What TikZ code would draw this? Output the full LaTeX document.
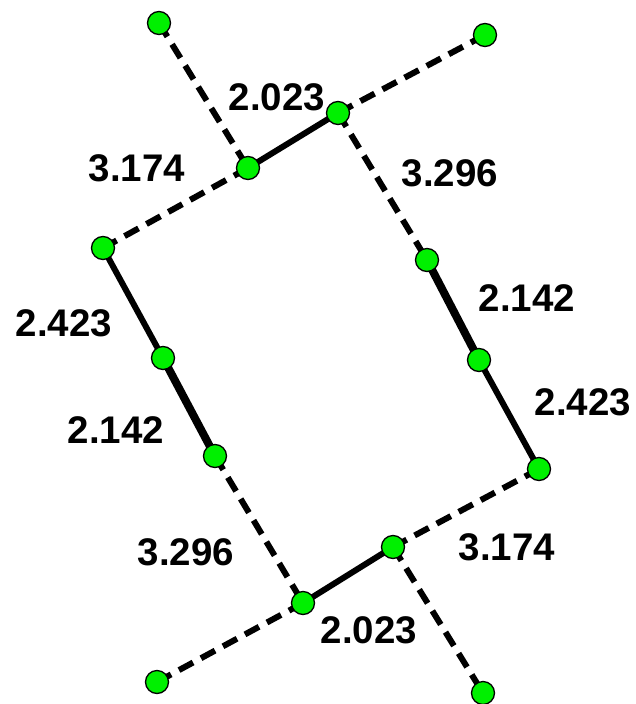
\documentclass[tikz,border=0pt]{standalone}
\usepackage{fontspec}
\setmainfont{Liberation Sans}
\usetikzlibrary{backgrounds}
\definecolor{atomgreen}{RGB}{0,240,0}
\begin{document}
\begin{tikzpicture}[x=1pt,y=-1pt,
    atom/.style={circle,draw=black,line width=1.3pt,fill=atomgreen,minimum size=23pt,inner sep=0pt},
    bond/.style={line width=6pt},
    strong/.style={line width=8pt},
    weak/.style={line width=6pt,dash pattern=on 16pt off 9pt},
    dist/.style={font=\fontsize{38.5}{41}\selectfont\bfseries}]
    \useasboundingbox (0,0) rectangle (635,704);
    % atomy (souradnice v pixelech)
    \node[atom] (a1) at (159,23) {};
    \node[atom] (a2) at (485,35) {};
    \node[atom] (a3) at (338,113) {};
    \node[atom] (a4) at (248,168) {};
    \node[atom] (a5) at (103,248) {};
    \node[atom] (a6) at (427,260) {};
    \node[atom] (a7) at (163,358) {};
    \node[atom] (a8) at (479,360) {};
    \node[atom] (a9) at (215,456) {};
    \node[atom] (a10) at (539,469) {};
    \node[atom] (a11) at (393,547) {};
    \node[atom] (a12) at (303,603) {};
    \node[atom] (a13) at (157,682) {};
    \node[atom] (a14) at (483,693) {};
    % vazby pod atomy
    \begin{scope}[on background layer]
        \draw[weak] (a1.center) -- (a4.center);
        \draw[weak] (a2.center) -- (a3.center);
        \draw[bond] (a3.center) -- (a4.center);
        \draw[weak] (a4.center) -- (a5.center);
        \draw[weak] (a3.center) -- (a6.center);
        \draw[strong] (a6.center) -- (a8.center);
        \draw[bond] (a8.center) -- (a10.center);
        \draw[bond] (a5.center) -- (a7.center);
        \draw[strong] (a7.center) -- (a9.center);
        \draw[weak] (a9.center) -- (a12.center);
        \draw[weak] (a10.center) -- (a11.center);
        \draw[bond] (a11.center) -- (a12.center);
        \draw[weak] (a12.center) -- (a13.center);
        \draw[weak] (a11.center) -- (a14.center);
    \end{scope}
    % vzdalenosti
    \node[dist] (d1) at (277,97) {2.023};
    \node[dist] (d2) at (137,168) {3.174};
    \node[dist] (d3) at (450,173) {3.296};
    \node[dist] (d4) at (64,323) {2.423};
    \node[dist] (d5) at (116,430) {2.142};
    \node[dist] (d6) at (527,298) {2.142};
    \node[dist] (d7) at (583,402) {2.423};
    \node[dist] (d8) at (186,552) {3.296};
    \node[dist] (d9) at (369,630) {2.023};
    \node[dist] (d10) at (507,547) {3.174};
\end{tikzpicture}
\end{document}
